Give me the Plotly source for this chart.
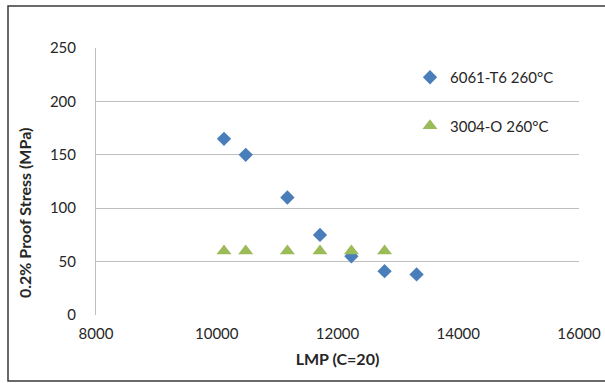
import plotly.graph_objects as go

lmp_6061 = [10120, 10480, 11170, 11710, 12230, 12780, 13310]
stress_6061 = [165, 150, 110, 75, 55, 41, 38]
lmp_3004 = [10120, 10480, 11170, 11710, 12230, 12780]
stress_3004 = [60, 60, 60, 60, 60, 60]

x_ticks = [8000, 10000, 12000, 14000, 16000]
y_ticks = [0, 50, 100, 150, 200, 250]

FONT = "Lato, Carlito, 'Liberation Sans', sans-serif"

fig = go.Figure()
fig.add_trace(go.Scatter(
    x=lmp_6061, y=stress_6061, mode="markers", name="6061-T6 260\u00b0C",
    legendgroup="a",
    marker=dict(symbol="diamond", size=11, color="#4a7ebb", line=dict(width=0)),
))
fig.add_trace(go.Scatter(
    x=lmp_3004, y=stress_3004, mode="markers", name="3004-O 260\u00b0C",
    legendgroup="b",
    marker=dict(symbol="triangle-up", size=13, color="#9bbb59", line=dict(width=0)),
))

L, R, T, B = 96, 26, 48, 68
W, H = 605, 383
pw, ph = W - L - R, H - T - B

def px(xp):
    return (xp - L) / pw

def py(yp):
    return (H - B - yp) / ph

fig.update_layout(
    width=W, height=H,
    margin=dict(l=L, r=R, t=T, b=B, autoexpand=False),
    paper_bgcolor="white", plot_bgcolor="white",
    font=dict(family=FONT, size=15, color="#262626"),
    showlegend=True,
    legend=dict(
        x=px(410), y=py(61), xanchor="left", yanchor="top",
        bgcolor="rgba(0,0,0,0)", tracegroupgap=26,
        font=dict(size=15, color="#262626"),
        itemwidth=30,
    ),
    xaxis=dict(
        range=[8000, 16000], tickvals=x_ticks, ticktext=[str(v) for v in x_ticks],
        showgrid=False, zeroline=False, showline=False, automargin=False,
        ticks="", ticklabelstandoff=8,
        title=dict(text="<b>LMP (C=20)</b>", font=dict(size=16), standoff=12),
    ),
    yaxis=dict(
        range=[0, 250], tickvals=y_ticks, ticktext=[str(v) for v in y_ticks],
        showgrid=True, gridcolor="#bfbfbf", gridwidth=1, automargin=False,
        zeroline=False, showline=True, linecolor="#bfbfbf", linewidth=1,
        ticks="", ticklabelstandoff=16,
    ),
    annotations=[dict(
        text="<b>0.2% Proof Stress (MPa)</b>", textangle=-90,
        xref="paper", yref="paper", x=px(24), y=py(213),
        xanchor="center", yanchor="middle", showarrow=False,
        font=dict(size=16, color="#262626"),
    )],
    shapes=[dict(
        type="rect", xref="paper", yref="paper",
        x0=px(8), x1=px(640), y0=py(381), y1=py(6),
        line=dict(color="#3a3a3a", width=1.5), fillcolor="rgba(0,0,0,0)",
        layer="below",
    )],
)

fig.write_html("out.html")
